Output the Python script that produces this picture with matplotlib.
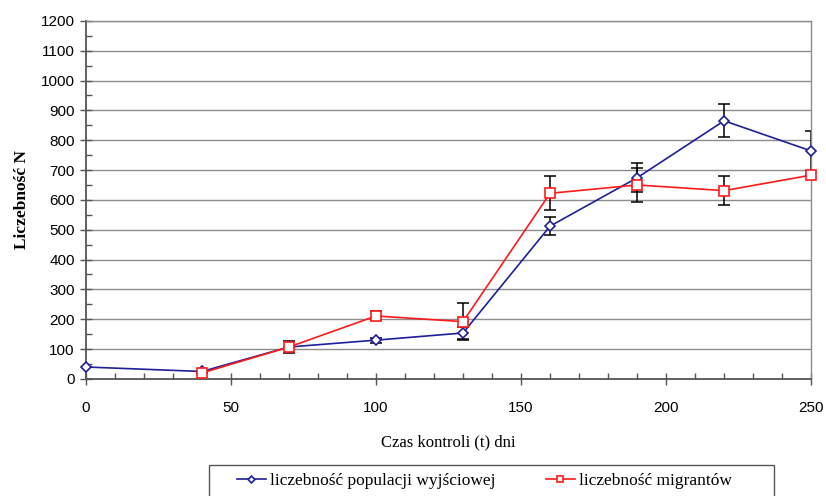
import matplotlib
matplotlib.use("Agg")
import matplotlib.pyplot as plt
from matplotlib.patches import Rectangle
from matplotlib.ticker import MultipleLocator

# data
days_pop = [0, 40, 70, 100, 130, 160, 190, 220, 250]
pop_values = [40, 25, 107, 130, 154, 512, 674, 865, 764]
pop_err = [0, 0, 20, 8, 20, 30, 49, 55, 66]

days_mig = [40, 70, 100, 130, 160, 190, 220, 250]
mig_values = [20, 107, 211, 192, 622, 650, 631, 683]
mig_err = [0, 0, 15, 63, 57, 58, 49, 0]

label_pop = "liczebność populacji wyjściowej"
label_mig = "liczebność migrantów"

blue = "#1f1f9a"
red = "#ff1a1a"
serif = "Liberation Serif"
sans = "Liberation Sans"

fig = plt.figure(figsize=(8.26, 4.96), dpi=100)
ax = fig.add_axes([0.104, 0.236, 0.878, 0.722])

# error bars first, then the lines with markers on top
ax.errorbar(days_pop, pop_values, yerr=pop_err, fmt="none", ecolor="black",
            elinewidth=1.1, capsize=4, capthick=1.1, zorder=2)
ax.errorbar(days_mig, mig_values, yerr=mig_err, fmt="none", ecolor="black",
            elinewidth=1.1, capsize=4, capthick=1.1, zorder=2)

ax.plot(days_pop, pop_values, color=blue, lw=1.2, marker="D", markersize=5,
        markerfacecolor="white", markeredgecolor=blue, markeredgewidth=1.2,
        label=label_pop, zorder=3, clip_on=False)
ax.plot(days_mig, mig_values, color=red, lw=1.2, marker="s", markersize=6.5,
        markerfacecolor="white", markeredgecolor=red, markeredgewidth=1.2,
        label=label_mig, zorder=4, clip_on=False)

ax.set_xlim(0, 250)
ax.set_ylim(0, 1200)
ax.xaxis.set_major_locator(MultipleLocator(50))
ax.xaxis.set_minor_locator(MultipleLocator(10))
ax.yaxis.set_major_locator(MultipleLocator(100))
ax.yaxis.set_minor_locator(MultipleLocator(50))

ax.grid(axis="y", which="major", color="#8c8c8c", lw=1.0)
ax.set_axisbelow(True)

ax.tick_params(axis="both", which="major", direction="inout", length=8,
               width=1.0, color="#555555", labelsize=11, pad=4)
ax.tick_params(axis="x", which="major", pad=12)
ax.tick_params(axis="both", which="minor", direction="in", length=4,
               width=1.0, color="#555555")
for lab in ax.get_xticklabels() + ax.get_yticklabels():
    lab.set_fontfamily(sans)

for side in ["left", "bottom"]:
    ax.spines[side].set_color("#555555")
    ax.spines[side].set_linewidth(1.3)
for side in ["top", "right"]:
    ax.spines[side].set_color("#8c8c8c")
    ax.spines[side].set_linewidth(1.0)

ax.set_xlabel("Czas kontroli (t) dni", fontfamily=serif, fontsize=12, labelpad=14)
ax.set_ylabel("Liczebność N", fontfamily=serif, fontsize=12.5,
              fontweight="bold", labelpad=8)

# legend without its own frame; the box is drawn separately so it can run
# off the bottom edge like in the original
leg = fig.legend(loc="upper left", bbox_to_anchor=(0.287, 0.047), ncol=2,
                 borderaxespad=0, borderpad=0, frameon=False,
                 handlelength=1.65, handletextpad=0.25, markerscale=0.7,
                 prop={"family": serif, "size": 12.5}, columnspacing=2.9)
fig.patches.append(Rectangle((0.253, -0.05), 0.684, 0.1125,
                             transform=fig.transFigure, facecolor="none",
                             edgecolor="#555555", linewidth=1.0))

fig.savefig("out.png", dpi=100, facecolor="white")
